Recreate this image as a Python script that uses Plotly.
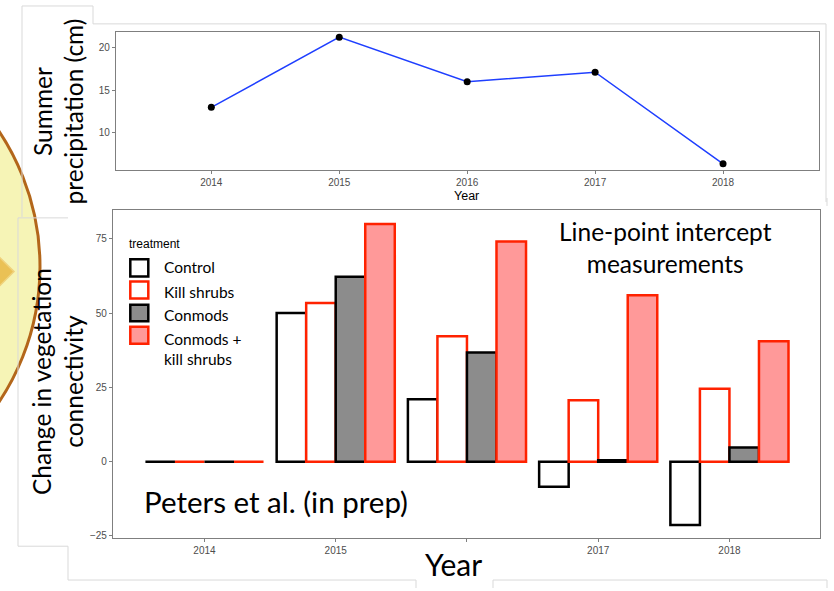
import plotly.graph_objects as go

W, H = 834, 591

# ---------------- data ----------------
years = [2014, 2015, 2016, 2017, 2018]
precip_cm = [13.0, 21.2, 16.0, 17.1, 6.4]

treatments = ["Control", "Kill shrubs", "Conmods", "Conmods +<br>kill shrubs"]
control = [0.0, 50.0, 21.0, -8.4, -21.3]
kill_shrubs = [0.0, 53.4, 42.2, 20.7, 24.5]
conmods = [0.0, 62.2, 36.7, 0.5, 4.8]
conmods_kill = [0.0, 80.0, 74.1, 56.0, 40.5]

x_tick_labels = ["2014", "2015", "2016", "2017", "2018"]
bar_tick_labels = ["2014", "2015", "", "2017", "2018"]
precip_ticks = [10, 15, 20]
change_ticks = [-25, 0, 25, 50, 75]

# ---------------- styles ----------------
RED = "#FF2200"
PINK = "#FF9999"
GRAY = "#8C8C8C"
BLUE = "#1F3FFF"
FRAME = "#D9D9D9"
AXIS = "#7F7F7F"
TICKFONT = dict(family="Liberation Sans, Arial", size=10, color="#4D4D4D")
SLIDE = "Lato"


def px(x):
    return x / W


def py(y):
    return 1 - y / H


fig = go.Figure()

# top: precipitation line
fig.add_trace(go.Scatter(
    x=years, y=precip_cm, mode="lines+markers",
    line=dict(color=BLUE, width=1.5),
    marker=dict(color="black", size=7),
    xaxis="x", yaxis="y", showlegend=False,
))

# bottom: grouped bars
series = [
    (control, "white", "black"),
    (kill_shrubs, "white", RED),
    (conmods, GRAY, "black"),
    (conmods_kill, PINK, RED),
]
for name, (vals, fill, edge) in zip(treatments, series):
    # zero-height bars are given a hairline height so their outline shows
    shown = [v if v != 0 else 0.001 for v in vals]
    fig.add_trace(go.Bar(
        x=years, y=shown, name=name,
        marker=dict(color=fill, line=dict(color=edge, width=2.5)),
        xaxis="x2", yaxis="y2", showlegend=False,
    ))

axis_common = dict(
    showline=True, linecolor=AXIS, linewidth=1.2, mirror=True,
    ticks="outside", ticklen=3, tickcolor=AXIS, tickwidth=1,
    showgrid=False, zeroline=False, tickfont=TICKFONT,
)

fig.update_layout(
    width=W, height=H,
    margin=dict(l=0, r=0, t=0, b=0),
    paper_bgcolor="white", plot_bgcolor="white",
    barmode="group", bargap=0.1, bargroupgap=0,
    xaxis=dict(domain=[px(116), px(819)], range=[2013.255, 2018.75],
               tickvals=years, ticktext=x_tick_labels, anchor="y", **axis_common),
    yaxis=dict(domain=[py(171), py(32)], range=[5.66, 21.82],
               tickvals=precip_ticks, anchor="x", **axis_common),
    xaxis2=dict(domain=[px(113), px(820)], range=[2013.303, 2018.69],
                tickvals=years, ticktext=bar_tick_labels, anchor="y2", **axis_common),
    yaxis2=dict(domain=[py(541), py(211)], range=[-25.77, 84.71],
                tickvals=change_ticks, anchor="x2", **axis_common),
)

shapes = []
# decorative yellow circle on the left
shapes.append(dict(type="circle", xref="paper", yref="paper",
                   x0=px(-452), x1=px(40), y0=py(514), y1=py(22),
                   fillcolor="#F6F4B6", line=dict(color="#B3661A", width=3),
                   layer="below"))
shapes.append(dict(type="path", xref="paper", yref="paper",
                   path=f"M{px(-2)},{py(257)} L{px(14)},{py(273)} L{px(-2)},{py(289)} Z",
                   fillcolor="#EAC155", line=dict(color="#EFD27E", width=1.5),
                   layer="below"))


def frame(points):
    d = "M" + " L".join(f"{px(a)},{py(b)}" for a, b in points)
    return dict(type="path", xref="paper", yref="paper", path=d,
                line=dict(color=FRAME, width=1), layer="below")


shapes += [
    frame([(22, 218), (22, 6), (93, 6), (93, 24), (826, 24), (826, 203)]),
    frame([(18, 219), (68, 219)]),
    frame([(18, 219), (18, 549), (68, 549), (68, 583), (416, 583)]),
    frame([(416, 583), (416, 591)]),
    frame([(493, 591), (493, 583), (827, 583), (827, 591)]),
    frame([(827, 199), (827, 207)]),
]

# manual legend keys
keys = [
    ("white", "black", 260.5, 278.0),
    ("white", RED, 283.0, 300.0),
    (GRAY, "black", 306.2, 322.8),
    (PINK, RED, 328.5, 345.5),
]
for fill, edge, y0, y1 in keys:
    shapes.append(dict(type="rect", xref="paper", yref="paper",
                       x0=px(130.3), x1=px(148.3), y0=py(y1), y1=py(y0),
                       fillcolor=fill, line=dict(color=edge, width=2.5)))

fig.update_layout(shapes=shapes)

ann = []


def text(x, y, s, size, family=SLIDE, xanchor="center", yanchor="middle",
         angle=0, color="black", align="center"):
    ann.append(dict(x=px(x), y=py(y), xref="paper", yref="paper", text=s,
                    showarrow=False, xanchor=xanchor, yanchor=yanchor,
                    textangle=angle, align=align,
                    font=dict(family=family, size=size, color=color)))


text(58, 112, "Summer<br>precipitation (cm)", 24.5, angle=-90)
text(57, 384, "Change in vegetation<br>connectivity", 24.5, angle=-90)
text(467, 197, "Year", 12.5, family="Liberation Sans, Arial")
text(454, 567, "Year", 30)
text(665, 249, "Line-point intercept<br>measurements", 24.5)
text(142, 504, "Peters et al. (in prep)", 29.5, xanchor="left")
text(127, 245, "treatment", 12, family="Liberation Sans, Arial", xanchor="left")
legend_y = [268, 293, 317, 351]
for name, yy in zip(treatments, legend_y):
    text(162, yy, name, 15.5, xanchor="left", align="left")

fig.update_layout(annotations=ann)

fig.write_html(
    "out.html",
    config={"displayModeBar": False},
    post_script="document.body.style.margin='0';document.body.style.overflow='hidden';",
)
